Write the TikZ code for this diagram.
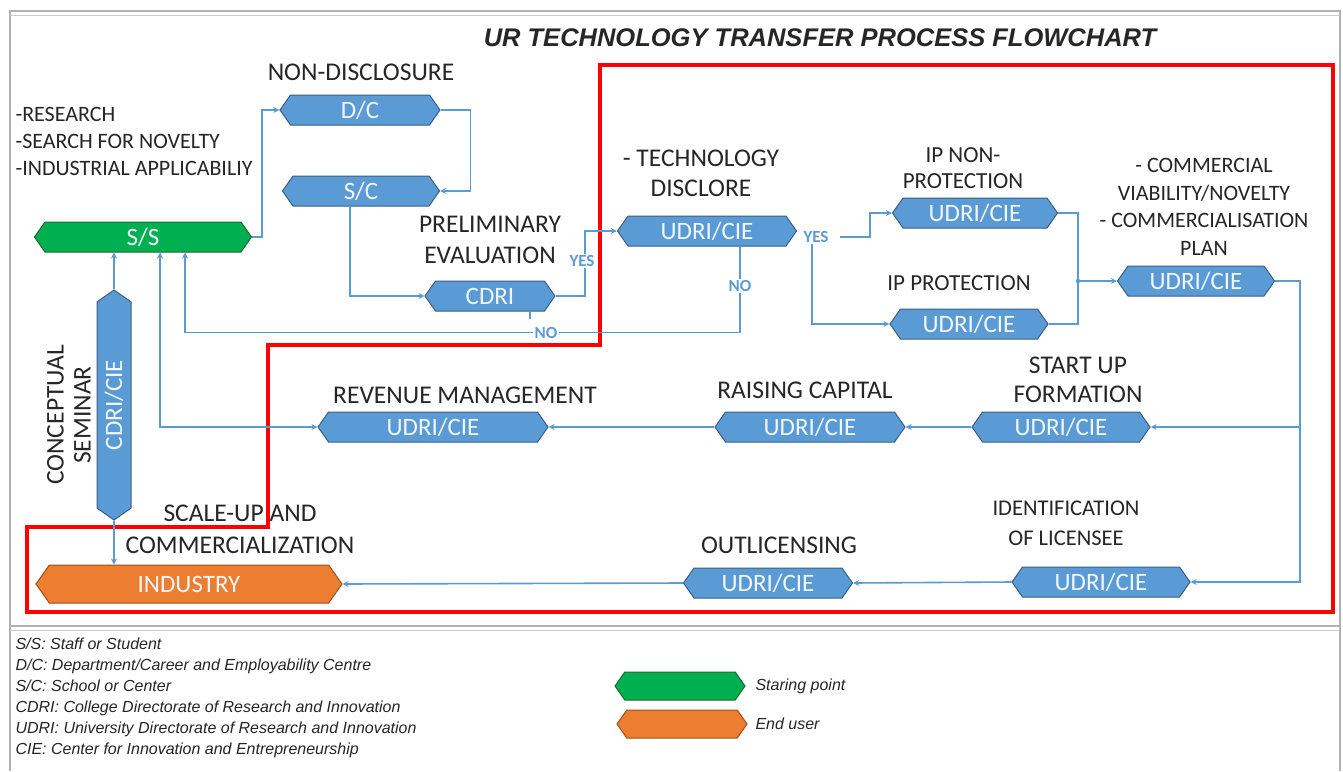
\documentclass[tikz,border=0pt]{standalone}
\usepackage{fontspec}
\setmainfont{Carlito}
\newfontfamily\titlefont{Liberation Sans}
\usetikzlibrary{shapes.symbols,arrows.meta}
\definecolor{bfill}{HTML}{5B9BD5}
\definecolor{bdr}{HTML}{3A5F85}
\definecolor{gfill}{HTML}{00B050}
\definecolor{gdr}{HTML}{1E6B2E}
\definecolor{ofill}{HTML}{ED7D31}
\definecolor{odr}{HTML}{9C5220}
\definecolor{lblue}{HTML}{5B9BD5}
\definecolor{txt}{HTML}{262626}
\begin{document}
\begin{tikzpicture}[x=1pt,y=-1pt,
  hexb/.style={signal, signal to=west and east, signal pointer angle=110, draw=bdr, fill=bfill, line width=1pt, text=white!92!bfill, font=\fontsize{25}{26}\selectfont, inner sep=0pt, minimum height=30pt},
  hexg/.style={hexb, fill=gfill, draw=gdr},
  hexo/.style={hexb, fill=ofill, draw=odr},
  lbl/.style={font=\fontsize{25.5}{30}\selectfont, align=center, text=txt},
  conn/.style={draw=lblue, line width=1.6pt},
  arr/.style={conn, -{Stealth[length=6pt,width=6pt]}},
  yn/.style={font=\bfseries\fontsize{17}{18}\selectfont, text=lblue, fill=white, inner sep=1.5pt},
  leg/.style={font=\titlefont\itshape\fontsize{16}{21}\selectfont, text=txt, align=left}]
\useasboundingbox (0,0) rectangle (1343,771);
\fill[white] (0,0) rectangle (1343,771);
% frame
\draw[gray!60, line width=1.5pt] (10,771) -- (10,11) -- (1340,11) -- (1340,771);
\draw[gray!40, line width=1pt] (10,15) -- (1340,15);
\draw[gray!60, line width=1.5pt] (10,626) -- (1340,626);
\draw[gray!40, line width=1pt] (10,630) -- (1340,630);
% title
\node[font=\titlefont\bfseries\itshape\fontsize{25.5}{27}\selectfont, text=txt] (title) at (820,38) {UR TECHNOLOGY TRANSFER PROCESS FLOWCHART};
% red region
\draw[red, line width=4.5pt, line join=miter] (600,65) -- (1333,65) -- (1333,612) -- (27,612) -- (27,527) -- (268,527) -- (268,345) -- (600,345) -- cycle;
% nodes
\node[hexg, minimum width=217pt] (ss) at (143,237) {S/S};
\node[hexb, minimum width=160pt] (dc) at (360,110) {D/C};
\node[hexb, minimum width=157pt] (sc) at (361,191) {S/C};
\node[hexb, minimum width=130pt] (cdri) at (490,296) {CDRI};
\node[hexb, minimum width=179pt] (td) at (707,231) {UDRI/CIE};
\node[hexb, minimum width=165pt] (ipn) at (975,213) {UDRI/CIE};
\node[hexb, minimum width=158pt] (ipp) at (969,324) {UDRI/CIE};
\node[hexb, minimum width=157pt] (cv) at (1196,281) {UDRI/CIE};
\node[hexb, minimum width=178pt] (su) at (1061,427) {UDRI/CIE};
\node[hexb, minimum width=190pt] (rc) at (810,427) {UDRI/CIE};
\node[hexb, minimum width=230pt] (rm) at (433,427) {UDRI/CIE};
\node[hexb, minimum width=178pt] (il) at (1101,582) {UDRI/CIE};
\node[hexb, minimum width=169pt] (ol) at (768,583) {UDRI/CIE};
\node[hexo, minimum width=306pt, minimum height=38pt] (ind) at (189,584) {INDUSTRY};
\node[hexb, rotate=90, minimum width=230pt, minimum height=34pt] (cs) at (114,405) {CDRI/CIE};
% labels
\node[lbl] (l1) at (361,72) {NON-DISCLOSURE};
\node[lbl, align=left, anchor=west, font=\fontsize{22}{27}\selectfont] (l2) at (12,141) {-RESEARCH\\-SEARCH FOR NOVELTY\\-INDUSTRIAL APPLICABILIY};
\node[lbl, font=\fontsize{25.5}{31}\selectfont] (l3) at (490,240) {PRELIMINARY\\EVALUATION};
\node[lbl] (l4) at (701,173) {- TECHNOLOGY\\DISCLORE};
\node[lbl, font=\fontsize{23}{26}\selectfont] (l5) at (963,168) {IP NON-\\PROTECTION};
\node[lbl, font=\fontsize{22}{27.5}\selectfont] (l6) at (1204,207) {- COMMERCIAL\\VIABILITY/NOVELTY\\- COMMERCIALISATION\\PLAN};
\node[lbl, font=\fontsize{23}{26}\selectfont] (l7) at (959,283) {IP PROTECTION};
\node[lbl, font=\fontsize{25.5}{29}\selectfont] (l8) at (1078,380) {START UP\\FORMATION};
\node[lbl] (l9) at (805,390) {RAISING CAPITAL};
\node[lbl] (l10) at (465,395) {REVENUE MANAGEMENT};
\node[lbl, font=\fontsize{22.5}{30}\selectfont] (l11) at (1066,523) {IDENTIFICATION\\OF LICENSEE};
\node[lbl] (l12) at (779,545) {OUTLICENSING};
\node[lbl, font=\fontsize{25.5}{32}\selectfont] (l13) at (240,529) {SCALE-UP AND\\COMMERCIALIZATION};
\node[lbl, rotate=90, font=\fontsize{25.5}{27}\selectfont] (l14) at (69,415) {CONCEPTUAL\\SEMINAR};
% connectors
\draw[arr] (ss.east) -- ++(10,0) |- (dc.west);
\draw[arr] (dc.east) -- ++(30,0) |- (sc.east);
\draw[arr] ([xshift=-11pt]sc.south) |- (cdri.west);
\draw[arr] (cdri.east) -- (585,296) -- (585,231) -- (td.west);
\node[yn] (yes1) at (582,261) {YES};
\draw[conn] ([xshift=40pt]cdri.south) -- ++(0,7);
\draw[arr] ([xshift=33pt]td.south) -- ++(0,86) -| ([xshift=42pt]ss.south);
\node[yn] (no1) at (740,286) {NO};
\node[yn] (no2) at (546,333) {NO};
\node[yn, fill=none] (yes2) at (816,237) {YES};
\draw[arr] ([xshift=10pt]yes2.east) -- (870,237) |- (ipn.west);
\draw[arr] ([xshift=-4pt]yes2.south) |- (ipp.west);
\coordinate (j) at (1078,281);
\draw[conn] (ipn.east) -| (j);
\draw[conn] (ipp.east) -| (j);
\draw[arr] (j) -- (cv.west);
\fill[lblue] (j) circle (2.2pt);
\coordinate (r) at (1300,427);
\draw[arr] (cv.east) -- (1300,281) |- (il.east);
\draw[arr] (r) -- (su.east);
\draw[arr] (su.west) -- (rc.east);
\draw[arr] (rc.west) -- (rm.east);
\draw[conn, {Stealth[length=6pt,width=6pt]}-{Stealth[length=6pt,width=6pt]}] ([xshift=17pt]ss.south) |- (rm.west);
\draw[arr] (cs.east) -- (cs.east |- ss.south);
\draw[arr] (cs.west) -- (cs.west |- ind.north);
\draw[arr] (il.west) -- (ol.east);
\draw[arr] (ol.west) -- (ind.east);
% legend
\node[leg, anchor=north west] (legtxt) at (12,634) {S/S: Staff or Student\\D/C: Department/Career and Employability Centre\\S/C: School or Center\\CDRI: College Directorate of Research and Innovation\\UDRI: University Directorate of Research and Innovation\\CIE: Center for Innovation and Entrepreneurship};
\node[hexg, minimum width=130pt, minimum height=28pt] (lg) at (680,686) {};
\node[leg, anchor=west] (lgt) at (752,686) {Staring point};
\node[hexo, minimum width=130pt, minimum height=28pt] (lo) at (682,724) {};
\node[leg, anchor=west] (lot) at (752,724) {End user};
\end{tikzpicture}
\end{document}
